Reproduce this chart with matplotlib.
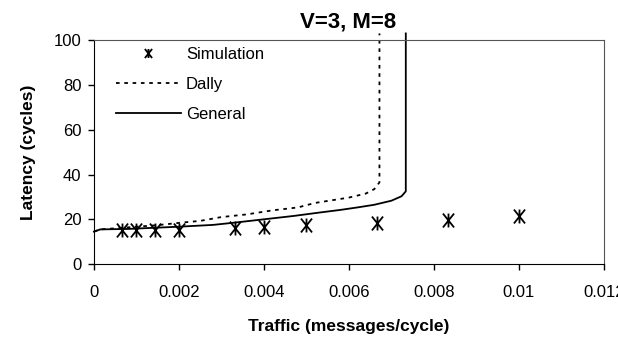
import matplotlib
matplotlib.use("Agg")
import matplotlib.pyplot as plt
from matplotlib.path import Path

plt.rcParams["font.family"] = ["Liberation Sans", "DejaVu Sans"]

# simulation points
sim_x = [0.000667, 0.001, 0.00143, 0.002, 0.00333, 0.004, 0.005, 0.00667, 0.00833, 0.01]
sim_y = [15.2, 15.2, 15.2, 15.3, 16.2, 16.4, 17.3, 18.2, 19.9, 21.4]

# Dally model curve
dally_x = [0.0, 0.00015, 0.0008, 0.0015, 0.002, 0.0025, 0.003, 0.0036, 0.0042,
           0.0048, 0.0052, 0.0056, 0.006, 0.0064, 0.0066, 0.00672, 0.00672]
dally_y = [14.5, 15.5, 16.4, 17.4, 18.4, 19.3, 21.0, 22.2, 24.0,
           25.3, 27.3, 28.5, 29.7, 31.5, 33.5, 36.5, 103]

# general model curve
general_x = [0.0, 0.00015, 0.0008, 0.002, 0.0028, 0.0033, 0.004, 0.0047, 0.0053,
             0.0058, 0.0062, 0.0066, 0.007, 0.00724, 0.00734, 0.00734]
general_y = [14.5, 15.5, 15.7, 16.7, 17.5, 18.5, 20.0, 21.5, 23.0,
             24.2, 25.3, 26.5, 28.3, 30.3, 32.5, 103]

x_ticks = [0, 0.002, 0.004, 0.006, 0.008, 0.01, 0.012]
x_labels = ["0", "0.002", "0.004", "0.006", "0.008", "0.01", "0.012"]
y_ticks = [0, 20, 40, 60, 80, 100]

# excel-style star: an X with a vertical bar through it
star = Path(
    [(0, -1), (0, 1), (-0.8, -1), (0.8, 1), (-0.8, 1), (0.8, -1)],
    [Path.MOVETO, Path.LINETO, Path.MOVETO, Path.LINETO, Path.MOVETO, Path.LINETO],
)

fig = plt.figure(figsize=(6.18, 3.43), dpi=100)
ax = fig.add_axes([0.152, 0.23, 0.825, 0.653])

ax.plot(sim_x, sim_y, linestyle="none", marker=star, markersize=10,
        markeredgewidth=1.3, color="black", label="Simulation")
ax.plot(dally_x, dally_y, color="black", linewidth=1.3, dashes=(2.0, 2.6),
        label="Dally", clip_on=False)
ax.plot(general_x, general_y, color="black", linewidth=1.3,
        label="General", clip_on=False)

ax.set_xlim(0, 0.012)
ax.set_ylim(0, 100)
ax.set_xticks(x_ticks)
ax.set_xticklabels(x_labels)
ax.set_yticks(y_ticks)
ax.tick_params(direction="out", length=4, labelsize=12, width=1)
ax.tick_params(axis="x", pad=11)
ax.tick_params(axis="y", pad=5)

for side in ["top", "right"]:
    ax.spines[side].set_linewidth(0.8)
    ax.spines[side].set_color("#555555")

ax.set_xlabel("Traffic (messages/cycle)", fontsize=12.5, fontweight="bold", labelpad=14)
ax.set_ylabel("Latency (cycles)", fontsize=12.5, fontweight="bold", labelpad=13)
fig.text(0.563, 0.937, "V=3, M=8", fontsize=16, fontweight="bold",
         ha="center", va="center")

ax.legend(loc="upper left", frameon=False, fontsize=12, handlelength=3.9,
          labelspacing=0.9, handletextpad=0.3, borderaxespad=0.0,
          markerscale=0.65, bbox_to_anchor=(0.03, 1.0))

fig.savefig("out.png", dpi=100)
